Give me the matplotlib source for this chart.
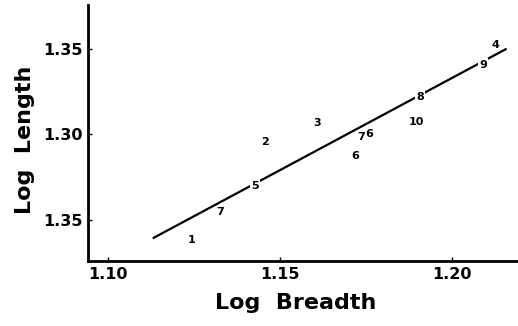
import matplotlib
matplotlib.use("Agg")
import matplotlib.pyplot as plt

# data
labels = ["1", "7", "5", "2", "3", "6", "7", "6", "10", "8", "9", "4"]
log_breadth = [1.1244, 1.1326, 1.1428, 1.1457, 1.1607, 1.1718, 1.1735, 1.1760, 1.1895, 1.1907, 1.2089, 1.2125]
log_length = [1.2380, 1.2546, 1.2696, 1.2955, 1.3066, 1.2871, 1.2984, 1.3004, 1.3072, 1.3218, 1.3408, 1.3521]
on_line = [False, False, True, False, False, False, False, False, False, True, True, False]

fit_x = [1.1131, 1.2158]
fit_y = [1.2390, 1.3501]

xticks = [1.10, 1.15, 1.20]
xtick_labels = ["1.10", "1.15", "1.20"]
yticks = [1.25, 1.30, 1.35]
ytick_labels = ["1.35", "1.30", "1.35"]

fig = plt.figure(figsize=(5.18, 3.26), dpi=100)
ax = fig.add_axes([88/518, 65/326, 1 - 88/518, (261-5)/326])

ax.plot(fit_x, fit_y, color="black", lw=1.6, solid_capstyle="butt", zorder=1)

for lab, x, y, ol in zip(labels, log_breadth, log_length, on_line):
    kw = {}
    if ol:
        kw["bbox"] = dict(facecolor="white", edgecolor="none", pad=1.0)
    ax.text(x, y, lab, ha="center", va="center", fontsize=8, fontweight="bold",
            family="DejaVu Sans", zorder=3, **kw)

ax.set_xlim(1.0943, 1.2191)
ax.set_ylim(1.2257, 1.3757)
ax.set_xticks(xticks)
ax.set_xticklabels(xtick_labels)
ax.set_yticks(yticks)
ax.set_yticklabels(ytick_labels)
ax.tick_params(direction="in", length=3, width=1, labelsize=11.5, pad=4)
for t in ax.get_xticklabels() + ax.get_yticklabels():
    t.set_fontweight("bold")

for s in ["top", "right"]:
    ax.spines[s].set_visible(False)
for s in ["left", "bottom"]:
    ax.spines[s].set_linewidth(2)

ax.set_xlabel("Log  Breadth", fontsize=16, fontweight="bold")
ax.set_ylabel("Log  Length", fontsize=16, fontweight="bold")
ax.xaxis.set_label_coords((296 - 88) / 430, -(303 - 261) / 256, transform=ax.transAxes)
ax.yaxis.set_label_coords(-(88 - 25) / 430, (261 - 140) / 256, transform=ax.transAxes)
ax.xaxis.label.set_va("center")
ax.yaxis.label.set_va("center")

fig.savefig("out.png", dpi=100)
